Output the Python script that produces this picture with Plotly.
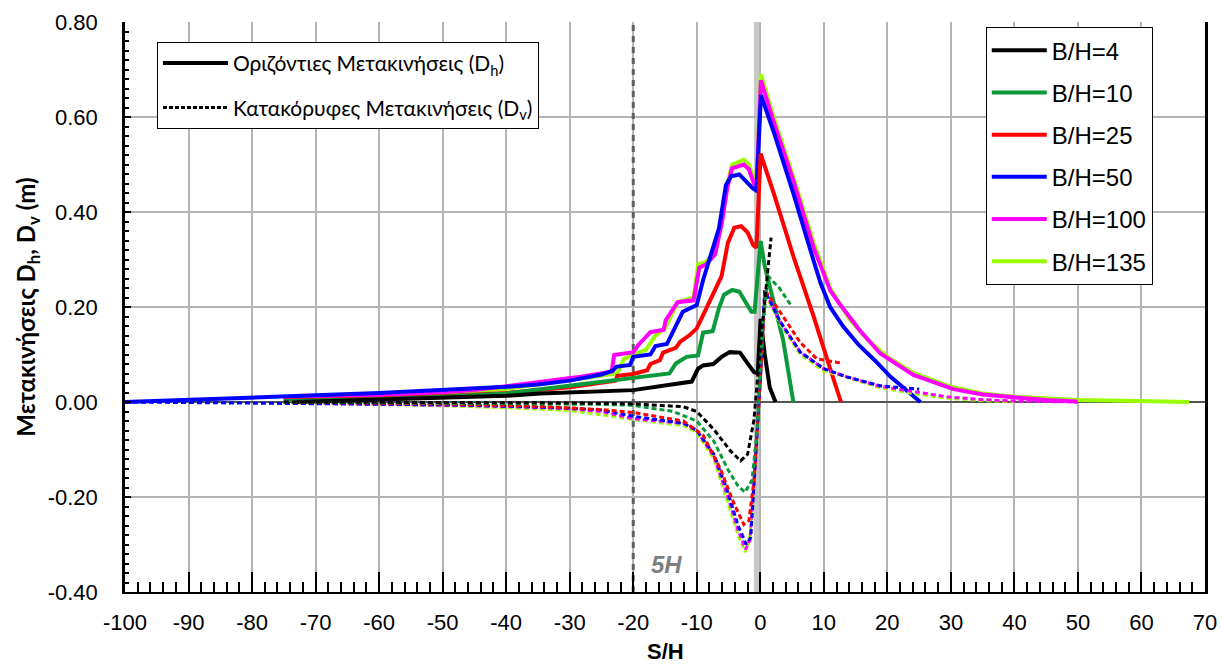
import plotly.graph_objects as go

# ---------------- data ----------------
series_names = ["B/H=4", "B/H=10", "B/H=25", "B/H=50", "B/H=100", "B/H=135"]
series_colors = ["#000000", "#0a9a3a", "#ff0000", "#0000ff", "#ff00ff", "#99ff00"]

# Horizontal displacements Dh (solid)
bh4_dh_x = [-73, -60, -50, -40, -34.6, -20, -10.8, -9.8, -9, -7.4, -6.1, -4.8, -3.2, -1.9, -1.0, -0.4, 0.05, 0.7, 1.5, 2.4]
bh4_dh_y = [0.0, 0.005, 0.009, 0.013, 0.018, 0.025, 0.043, 0.07, 0.077, 0.08, 0.095, 0.105, 0.104, 0.08, 0.063, 0.06, 0.175, 0.1, 0.03, 0.0]

bh10_dh_x = [-75, -60, -50, -40, -34.6, -24.2, -14.3, -13.3, -11.6, -9.8, -9.0, -7.5, -6.5, -5.7, -4.4, -3.3, -2.3, -1.4, -0.9, 0.05, 0.7, 2.1, 3.6, 5.2]
bh10_dh_y = [0.002, 0.006, 0.011, 0.018, 0.027, 0.043, 0.06, 0.081, 0.095, 0.098, 0.146, 0.149, 0.198, 0.226, 0.236, 0.232, 0.21, 0.19, 0.19, 0.339, 0.286, 0.213, 0.13, 0.0]

bh25_dh_x = [-75, -60, -50, -40, -30, -24, -22.8, -22.5, -20, -17.8, -17.3, -15.8, -15.3, -13.3, -12.6, -11.1, -10, -9, -7.4, -6.1, -5.1, -4.1, -3.0, -2.0, -1.1, -0.6, 0.05, 2.1, 5.25, 8.4, 11, 12.7]
bh25_dh_y = [0.003, 0.007, 0.012, 0.019, 0.031, 0.043, 0.045, 0.055, 0.059, 0.067, 0.08, 0.088, 0.104, 0.114, 0.127, 0.141, 0.155, 0.183, 0.23, 0.265, 0.335, 0.367, 0.37, 0.357, 0.33, 0.325, 0.523, 0.44, 0.305, 0.18, 0.07, 0.0]

bh50_dh_x = [-100, -90, -80, -70, -60, -50, -40, -35, -30, -25, -23.2, -22.7, -20.5, -20, -17.3, -16.5, -14.7, -12.2, -10, -9, -8, -6.5, -5.4, -4.6, -3.3, -2.3, -1.2, -0.6, 0.1, 2.1, 5.25, 8.4, 9.5, 11, 13, 15.5, 18, 20.5, 23, 25.2]
bh50_dh_y = [0.0, 0.004, 0.009, 0.014, 0.019, 0.025, 0.032, 0.037, 0.045, 0.058, 0.066, 0.074, 0.078, 0.095, 0.1, 0.118, 0.122, 0.19, 0.204, 0.257, 0.30, 0.366, 0.457, 0.475, 0.479, 0.465, 0.45, 0.445, 0.646, 0.569, 0.437, 0.297, 0.25, 0.2, 0.16, 0.12, 0.088, 0.053, 0.025, 0.0]

bh100_dh_x = [-75, -65, -55, -45, -35, -28.3, -23.4, -23.0, -20, -19.2, -17.3, -15.2, -14.9, -13, -10.5, -9.6, -8.5, -7.1, -6, -5.2, -4.45, -3.5, -2.6, -1.8, -1.0, -0.6, 0.1, 2.1, 5.25, 8.4, 11, 12.3, 15.7, 18.9, 24.1, 30.4, 35, 39.9, 45, 49.9]
bh100_dh_y = [0.005, 0.01, 0.016, 0.025, 0.043, 0.053, 0.064, 0.099, 0.105, 0.12, 0.147, 0.152, 0.172, 0.21, 0.214, 0.283, 0.29, 0.311, 0.381, 0.45, 0.492, 0.497, 0.50, 0.49, 0.46, 0.455, 0.677, 0.59, 0.464, 0.325, 0.235, 0.21, 0.15, 0.102, 0.057, 0.027, 0.016, 0.01, 0.004, 0.001]

bh135_dh_x = [-72, -60, -50, -40, -35, -28, -22.5, -21.5, -20, -18, -16.5, -15, -13, -10.5, -9.8, -8.5, -7, -6, -5.2, -4.4, -3.5, -2.6, -1.8, -1.0, -0.6, 0.1, 2.1, 5.25, 8.4, 11, 14, 17, 20, 24, 30, 35, 40, 45, 50, 55, 60, 67.5]
bh135_dh_y = [0.004, 0.012, 0.018, 0.028, 0.037, 0.05, 0.06, 0.09, 0.1, 0.11, 0.14, 0.155, 0.21, 0.22, 0.29, 0.295, 0.32, 0.39, 0.46, 0.50, 0.505, 0.51, 0.50, 0.47, 0.465, 0.69, 0.60, 0.472, 0.335, 0.24, 0.175, 0.13, 0.095, 0.062, 0.032, 0.018, 0.011, 0.007, 0.004, 0.003, 0.002, 0.0]

# Vertical displacements Dv (dotted)
bh4_dv_x = [-75, -50, -30, -20, -12.1, -10, -7.3, -4.7, -3.1, -2.0, -1.0, -0.5, 0.3, 1.7]
bh4_dv_y = [0.0, -0.001, -0.002, -0.004, -0.01, -0.02, -0.058, -0.103, -0.124, -0.11, -0.038, 0.04, 0.16, 0.346]

bh10_dv_x = [-75, -50, -30, -25, -20, -13.7, -10, -7.3, -5.1, -3.5, -2.4, -1.3, -0.5, 0.3, 1.2, 3.0, 5.0]
bh10_dv_y = [0.0, -0.002, -0.004, -0.005, -0.007, -0.02, -0.04, -0.083, -0.142, -0.177, -0.19, -0.165, -0.058, 0.15, 0.265, 0.24, 0.2]

bh25_dv_x = [-75, -50, -35, -25, -20, -12.1, -9, -6.3, -4.2, -2.6, -1.8, -1.0, 0, 0.8, 3.1, 6.3, 8.9, 12.7]
bh25_dv_y = [0.0, -0.004, -0.009, -0.016, -0.022, -0.04, -0.07, -0.14, -0.212, -0.258, -0.25, -0.165, 0.045, 0.234, 0.19, 0.125, 0.091, 0.082]

bh50_dv_x = [-100, -90, -75, -60, -50, -40, -30, -25, -20, -12, -10, -7.3, -5.1, -3.5, -2.2, -1.5, -1.0, 0, 0.7, 3.1, 6.3, 10, 13.6, 18.9, 25]
bh50_dv_y = [0.0, -0.001, -0.002, -0.004, -0.006, -0.009, -0.013, -0.017, -0.03, -0.045, -0.06, -0.11, -0.19, -0.26, -0.30, -0.285, -0.17, 0.045, 0.235, 0.17, 0.105, 0.07, 0.053, 0.034, 0.027]

bh100_dv_x = [-75, -60, -50, -40, -30, -25, -20, -12, -10, -7.3, -5.1, -3.5, -2.3, -1.6, -1.0, 0, 0.7, 3.1, 6.3, 10, 13.6, 18.9, 24, 29.4, 35, 40, 45, 50]
bh100_dv_y = [-0.001, -0.004, -0.006, -0.009, -0.014, -0.02, -0.035, -0.045, -0.06, -0.115, -0.2, -0.27, -0.31, -0.29, -0.17, 0.045, 0.235, 0.17, 0.105, 0.07, 0.053, 0.033, 0.022, 0.011, 0.005, 0.002, 0.001, 0.0]

bh135_dv_x = [-75, -60, -50, -40, -30, -25, -20, -12, -10, -7.3, -5.1, -3.5, -2.4, -1.7, -1.0, 0, 0.7, 3.1, 6.3, 10, 12.1, 18.9, 24, 29.4, 35, 40]
bh135_dv_y = [-0.001, -0.005, -0.008, -0.012, -0.018, -0.027, -0.037, -0.05, -0.065, -0.12, -0.21, -0.28, -0.316, -0.29, -0.17, 0.045, 0.23, 0.165, 0.1, 0.065, 0.058, 0.03, 0.018, 0.008, 0.003, 0.0]

# reference line at S/H = -20 (5H) and the wall band near S/H = 0
ref_line_x = [-20, -20]
ref_line_y = [-0.4, 0.8]
band_x0, band_x1 = -1.0, 0.1

x_tick_vals = list(range(-100, 71, 10))
x_tick_text = [str(v) for v in x_tick_vals]
y_tick_vals = [-0.4, -0.2, 0.0, 0.2, 0.4, 0.6, 0.8]
y_tick_text = ["-0.40", "-0.20", "0.00", "0.20", "0.40", "0.60", "0.80"]
style_labels = ["Οριζόντιες Μετακινήσεις (D<sub>h</sub>)", "Κατακόρυφες Μετακινήσεις (D<sub>v</sub>)"]

dh_x = [bh4_dh_x, bh10_dh_x, bh25_dh_x, bh50_dh_x, bh100_dh_x, bh135_dh_x]
dh_y = [bh4_dh_y, bh10_dh_y, bh25_dh_y, bh50_dh_y, bh100_dh_y, bh135_dh_y]
dv_x = [bh4_dv_x, bh10_dv_x, bh25_dv_x, bh50_dv_x, bh100_dv_x, bh135_dv_x]
dv_y = [bh4_dv_y, bh10_dv_y, bh25_dv_y, bh50_dv_y, bh100_dv_y, bh135_dv_y]

fig = go.Figure()

# dashed 5H reference line (under curves)
fig.add_trace(go.Scatter(x=ref_line_x, y=ref_line_y, mode="lines", showlegend=False, hoverinfo="skip",
                         line=dict(color="#5f5f5f", width=3, dash="6px,5px")))

# solid lines (draw last series first so B/H=4 on top)
for i in reversed(range(6)):
    fig.add_trace(go.Scatter(x=dh_x[i], y=dh_y[i], mode="lines", name=series_names[i],
                             line=dict(color=series_colors[i], width=4),
                             legend="legend2", legendgroup=series_names[i], legendrank=100 + i))
# dotted lines
for i in reversed(range(6)):
    fig.add_trace(go.Scatter(x=dv_x[i], y=dv_y[i], mode="lines", name=series_names[i] + " Dv",
                             line=dict(color=series_colors[i], width=3, dash="5px,3px"),
                             showlegend=False))
# style legend dummies
fig.add_trace(go.Scatter(x=[None], y=[None], mode="lines", name=style_labels[0],
                         line=dict(color="black", width=4), legend="legend", legendgroup="s1", legendrank=1))
fig.add_trace(go.Scatter(x=[None], y=[None], mode="lines", name=style_labels[1],
                         line=dict(color="black", width=3, dash="4px,2px"), legend="legend", legendgroup="s2", legendrank=2))

fig.add_shape(type="rect", xref="x", yref="paper", x0=band_x0, x1=band_x1, y0=0, y1=1,
              fillcolor="#c8c8c8", line=dict(width=0), layer="between")

fig.add_annotation(x=-14.8, y=-0.343, xref="x", yref="y", text="<b><i>5H</i></b>", showarrow=False,
                   font=dict(family="Liberation Sans, Arial", size=24, color="#7f7f7f"))
fig.add_annotation(x=-0.091, y=0.5, xref="paper", yref="paper", textangle=-90, showarrow=False,
                   xanchor="center", yanchor="middle",
                   text="<b>Μετακινήσεις D<sub>h</sub>, D<sub>v</sub> (m)</b>",
                   font=dict(family="Lato, Carlito, sans-serif", size=24, color="black"))
fig.add_annotation(x=0.5, y=-0.104, xref="paper", yref="paper", showarrow=False,
                   xanchor="center", yanchor="middle", text="<b>S/H</b>",
                   font=dict(family="Liberation Sans, Arial", size=22, color="black"))

fig.update_layout(
    width=1222, height=665,
    margin=dict(l=125, r=17, t=22, b=73),
    paper_bgcolor="white", plot_bgcolor="white",
    font=dict(family="Liberation Sans, Arial", size=22, color="black"),
    xaxis=dict(range=[-100, 70], tickvals=x_tick_vals, ticktext=x_tick_text, ticks="inside", ticklen=20, tickwidth=2,
               tickcolor="black", showgrid=True, gridcolor="#b4b4b4", gridwidth=1.5,
               zeroline=False, showline=True, linecolor="black", linewidth=2,
               minor=dict(dtick=2, ticks="inside", ticklen=10, tickwidth=2, tickcolor="black", showgrid=False),
               ticklabelstandoff=10, automargin=False),
    yaxis=dict(range=[-0.4, 0.8], tickvals=y_tick_vals, ticktext=y_tick_text, ticks="inside", ticklen=6,
               tickwidth=1.5, tickcolor="black", showgrid=True, gridcolor="#b4b4b4", gridwidth=1.5,
               zeroline=True, zerolinecolor="#555555", zerolinewidth=2,
               showline=True, linecolor="black", linewidth=2.5, mirror=True,
               minor=dict(dtick=0.02, ticks="inside", ticklen=4, tickwidth=1.5, tickcolor="black", showgrid=False),
               ticklabelstandoff=20, automargin=False),
    legend=dict(x=0.0296, y=0.965, xanchor="left", yanchor="top", bgcolor="white",
                bordercolor="black", borderwidth=1, tracegroupgap=14, itemwidth=65,
                font=dict(family="Lato, Carlito, sans-serif", size=21)),
    legend2=dict(x=0.797, y=0.991, xanchor="left", yanchor="top", bgcolor="white",
                 bordercolor="black", borderwidth=1, tracegroupgap=8, itemwidth=55,
                 font=dict(family="Liberation Sans, Arial", size=24)),
)

fig.write_html("out.html")
